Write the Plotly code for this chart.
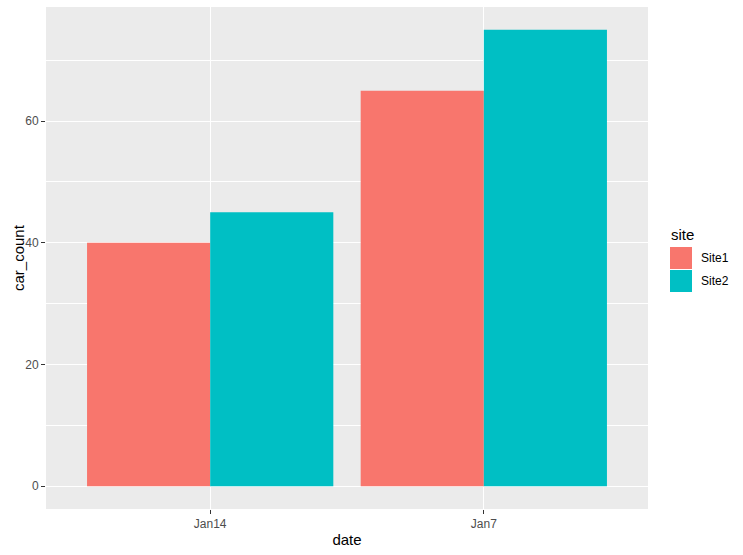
import plotly.graph_objects as go

dates = ["Jan14", "Jan7"]
sites = ["Site1", "Site2"]
site1_counts = [40, 65]
site2_counts = [45, 75]
colors = ["#F8766D", "#00BFC4"]
y_ticks = [0, 20, 40, 60]

FONT = "Arial, Liberation Sans, sans-serif"

fig = go.Figure()
for name, vals, col in zip(sites, [site1_counts, site2_counts], colors):
    fig.add_trace(go.Bar(x=dates, y=vals, name=name, marker=dict(color=col, line=dict(width=0)),
                         showlegend=False))

fig.update_layout(
    width=743, height=555,
    margin=dict(l=46, r=95, t=7, b=46, autoexpand=False),
    paper_bgcolor="white", plot_bgcolor="#EBEBEB",
    barmode="group", bargap=0.1, bargroupgap=0,
    font=dict(family=FONT),
)
fig.update_xaxes(
    type="category", range=[-0.6, 1.6], automargin=False,
    showgrid=True, gridcolor="white", gridwidth=1.1,
    ticks="outside", ticklen=4, tickcolor="#333333", tickwidth=1,
    tickfont=dict(size=12, color="#4D4D4D", family=FONT),
    title=dict(text="date", font=dict(size=15, color="black", family=FONT), standoff=4),
    zeroline=False, showline=False,
)
fig.update_yaxes(
    range=[-3.75, 78.75], automargin=False,
    tickmode="array", tickvals=y_ticks, ticktext=[str(v) for v in y_ticks],
    showgrid=True, gridcolor="white", gridwidth=1.1,
    minor=dict(tickmode="array", tickvals=[10, 30, 50, 70], showgrid=True, gridcolor="white", gridwidth=0.55),
    ticks="outside", ticklen=4, tickcolor="#333333", tickwidth=1,
    tickfont=dict(size=12, color="#4D4D4D", family=FONT),
    zeroline=False, showline=False,
)

PW, PH = 602, 502  # plot area in px

def px_x(x):
    return (x - 46) / PW

def px_y(y):
    return (509 - y) / PH

# y axis title
fig.add_annotation(x=px_x(18), y=px_y(258), xref="paper", yref="paper", text="car_count", showarrow=False,
                   textangle=-90, xanchor="center", yanchor="middle",
                   font=dict(size=15, color="black", family=FONT))

# legend drawn manually (ggplot-style keys)
fig.add_annotation(x=px_x(669), y=px_y(234), xref="paper", yref="paper", text="site", showarrow=False,
                   xanchor="left", yanchor="middle", font=dict(size=15, color="black", family=FONT))
for i, (name, col) in enumerate(zip(sites, colors)):
    y0 = 247 + i * 23
    fig.add_shape(type="rect", xref="paper", yref="paper",
                  x0=px_x(670), x1=px_x(692), y0=px_y(y0 + 22), y1=px_y(y0),
                  fillcolor=col, line=dict(width=0))
    fig.add_annotation(x=px_x(699), y=px_y(y0 + 11), xref="paper", yref="paper",
                       text=name, showarrow=False, xanchor="left", yanchor="middle",
                       font=dict(size=12, color="black", family=FONT))

fig.write_html("out.html", config={"displayModeBar": False},
               post_script="document.body.style.margin='0px';")
